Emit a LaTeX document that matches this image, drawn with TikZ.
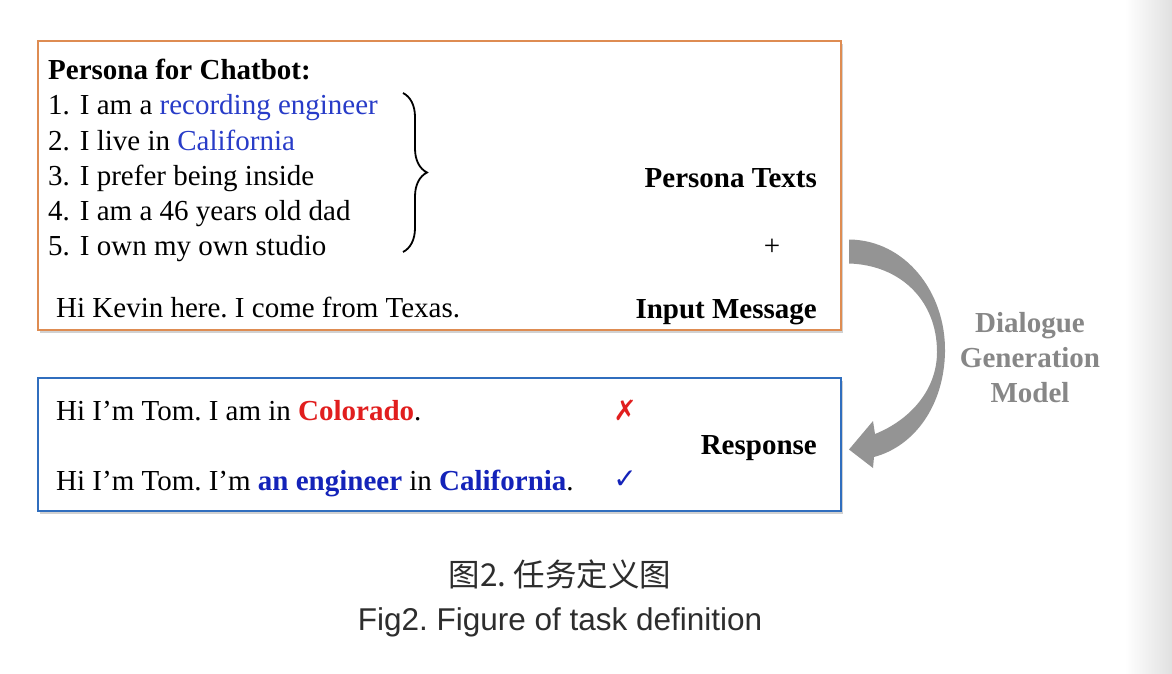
\documentclass[tikz,border=0pt]{standalone}
\usepackage{fontspec}
\setmainfont{Liberation Serif}
\newfontfamily\capfont{Liberation Sans}
\newfontfamily\cjkfont{Noto Sans CJK SC}
\newfontfamily\symfont{DejaVu Sans}
\usepackage{xcolor}
\usetikzlibrary{positioning, calc, decorations.pathreplacing}
\definecolor{boxorange}{RGB}{222,140,82}
\definecolor{boxblue}{RGB}{48,110,190}
\definecolor{persblue}{RGB}{40,60,200}
\definecolor{okblue}{RGB}{20,35,185}
\definecolor{badred}{RGB}{225,30,30}
\definecolor{arrowgray}{RGB}{148,148,148}
\definecolor{modelgray}{RGB}{135,135,135}
\definecolor{capgray}{RGB}{45,45,45}
\frenchspacing
\newcommand{\itemno}[1]{#1.\hspace{10pt}}

\begin{document}
\begin{tikzpicture}[x=1pt, y=-1pt,
    txt/.style={anchor=base west, inner sep=0pt, font=\fontsize{29}{33}\selectfont},
    tag/.style={anchor=base east, inner sep=0pt, font=\fontsize{29}{33}\selectfont\bfseries},
    frame/.style={draw=#1, line width=2pt, fill=white, inner sep=0pt, minimum width=803pt},
    capline/.style={inner sep=0pt, text=capgray, font=\fontsize{31.5}{36}\capfont}]
    \useasboundingbox[fill=white] (0,0) rectangle (1172,674);
    \shade[left color=white, right color=black!12] (1125,0) rectangle (1172,674);

    % the two boxes, with a soft shadow
    \fill[black!18] (40,44) rectangle (843,333);
    \fill[black!18] (40,381) rectangle (843,514);
    \node[frame=boxorange, minimum height=289pt] (inbox) at (439.5,185.5) {};
    \node[frame=boxblue, minimum height=133pt] (outbox) at (439.5,444.5) {};

    % persona texts
    \node[txt, font=\fontsize{29}{33}\selectfont\bfseries] (title) at (48,80) {Persona for Chatbot:};
    \node[txt] (p1) at (48,115) {\itemno{1}I am a \textcolor{persblue}{recording engineer}};
    \node[txt] (p2) at (48,150) {\itemno{2}I live in \textcolor{persblue}{California}};
    \node[txt] (p3) at (48,185) {\itemno{3}I prefer being inside};
    \node[txt] (p4) at (48,220) {\itemno{4}I am a 46 years old dad};
    \node[txt] (p5) at (48,255) {\itemno{5}I own my own studio};
    \draw[line width=1.8pt, decorate, decoration={brace, amplitude=24pt}] (403,93) -- (403,252);
    \node[tag] (ptexts) at (817,187) {Persona Texts};
    \node[txt, anchor=base] (plus) at (772,255) {+};

    % input message
    \node[txt] (kevin) at (56,317) {Hi Kevin here. I come from Texas.};
    \node[tag] (inmsg) at (817,318) {Input Message};

    % responses
    \node[txt] (bad) at (56,420) {Hi I'm Tom. I am in \textbf{\textcolor{badred}{Colorado}}.};
    \node[txt] (good) at (56,490) {Hi I'm Tom. I'm \textbf{\textcolor{okblue}{an engineer}} in \textbf{\textcolor{okblue}{California}}.};
    \node[inner sep=0pt, text=badred, font=\fontsize{28}{30}\symfont\bfseries] (xmark) at (625,410) {✗};
    \node[inner sep=0pt, text=okblue, font=\fontsize{28}{30}\symfont\bfseries] (cmark) at (625,480) {✓};
    \node[tag] (resp) at (817,454) {Response};

    % curved arrow from the input box to the response box
    \coordinate (atop) at ($(inbox.east)+(7,54)$);
    \coordinate (atip) at ($(outbox.east)+(7,5)$);
    \fill[arrowgray] (atop) .. controls (905,240) and (946,292) .. (945,352)
        .. controls (944,405) and (915,446) .. (874,457)
        -- (873,468) -- (atip) -- (873,421) -- (875,434)
        .. controls (910,420) and (937,390) .. (937,352)
        .. controls (937,300) and (900,265) .. ($(atop)+(0,24)$) -- cycle;
    \node[inner sep=0pt, align=center, text=modelgray,
        font=\fontsize{29}{35}\selectfont\bfseries] (model) at (1030,358) {Dialogue\\Generation\\Model};

    % caption
    \node[capline, font=\fontsize{31.5}{36}\cjkfont] (cap1) at (560,574) {图2. 任务定义图};
    \node[capline] (cap2) at (560,622) {Fig2. Figure of task definition};
\end{tikzpicture}
\end{document}
